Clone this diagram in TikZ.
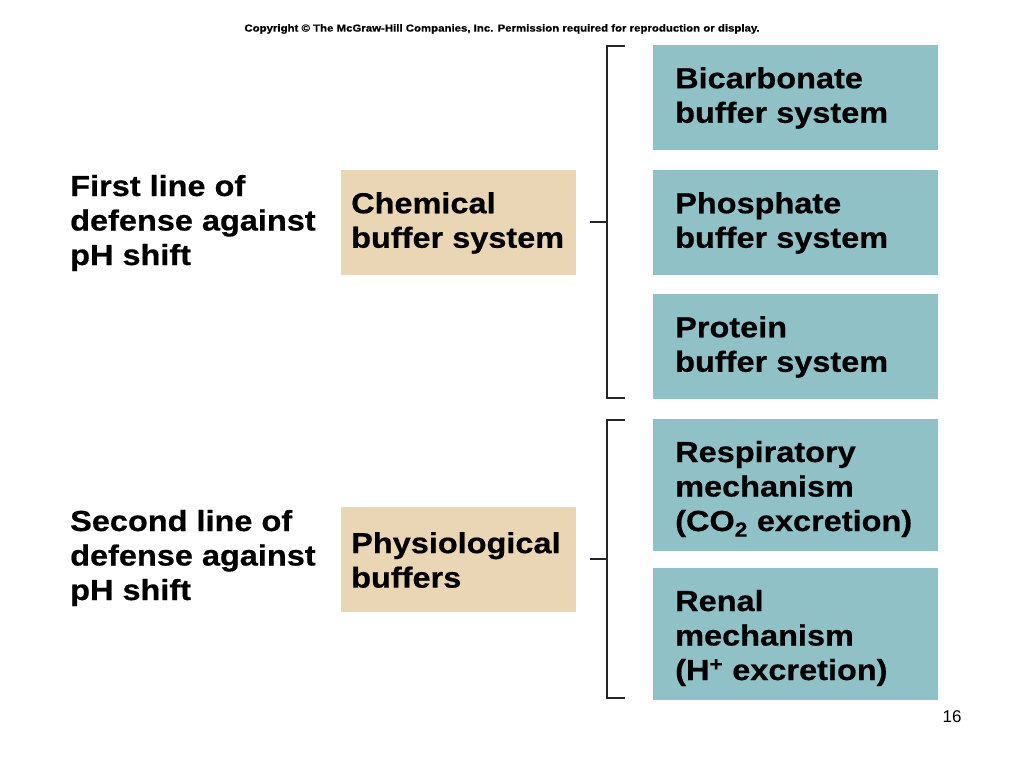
\documentclass[tikz,border=0pt]{standalone}
\usepackage{fontspec}
\setmainfont{Liberation Sans}
\newfontfamily\widebold[FakeStretch=1.12,FakeBold=0.6]{Liberation Sans Bold}
\definecolor{tealbox}{RGB}{143,193,198}
\definecolor{tanbox}{RGB}{234,214,180}
\begin{document}
\begin{tikzpicture}[x=1pt,y=-1pt,
  tb/.style={fill=tealbox,draw=none},
  nb/.style={fill=tanbox,draw=none},
  lbl/.style={anchor=west,align=left,font=\widebold\fontsize{29}{34.5}\selectfont,inner sep=0pt},
  br/.style={line width=2pt,black!85}]
\useasboundingbox (0,0) rectangle (1024,768);
\node[font=\widebold\fontsize{10.2}{12}\selectfont,inner sep=0pt] (copy) at (502,29) {Copyright © The McGraw-Hill Companies, Inc. Permission required for reproduction or display.};
\fill[tb] (653,45) rectangle (938,150);
\fill[tb] (653,170) rectangle (938,275);
\fill[tb] (653,294) rectangle (938,399);
\fill[tb] (653,419) rectangle (938,551);
\fill[tb] (653,568) rectangle (938,700);
\fill[nb] (341,170) rectangle (576,275);
\fill[nb] (341,507) rectangle (576,612);
\node[lbl] (t1) at (675,98) {Bicarbonate\\buffer system};
\node[lbl] (t2) at (675,223) {Phosphate\\buffer system};
\node[lbl] (t3) at (675,347) {Protein\\buffer system};
\node[lbl] (t4) at (675,489) {Respiratory\\mechanism\\(CO\textsubscript{2} excretion)};
\node[lbl] (t5) at (675,638) {Renal\\mechanism\\(H\textsuperscript{+} excretion)};
\node[lbl] (c1) at (351,223) {Chemical\\buffer system};
\node[lbl] (c2) at (351,560) {Physiological\\buffers};
\node[lbl] (l1) at (70,223) {First line of\\defense against\\pH shift};
\node[lbl] (l2) at (70,558) {Second line of\\defense against\\pH shift};
\draw[br] (625,46) -- (607,46) -- (607,398) -- (625,398);
\draw[br] (590,222) -- (607,222);
\draw[br] (625,420) -- (607,420) -- (607,698) -- (625,698);
\draw[br] (590,559) -- (607,559);
\node[font=\fontsize{17}{20}\selectfont] (pg) at (952,717) {16};
\end{tikzpicture}
\end{document}
